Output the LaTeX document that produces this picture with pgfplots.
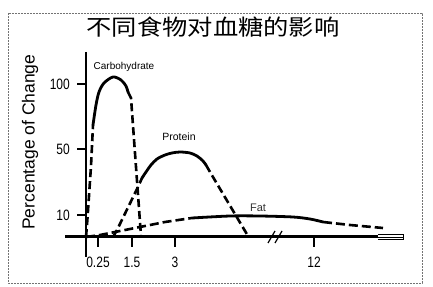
\documentclass[border=0pt]{standalone}
\usepackage{fontspec}
\setmainfont{Liberation Sans}
\newfontfamily\cjk{Noto Sans CJK SC}
\usepackage{graphicx}
\usepackage{pgfplots}
\pgfplotsset{compat=1.18}
\begin{document}
\begin{tikzpicture}
\begin{axis}[
  scale only axis, width=433pt, height=286pt,
  xmin=0, xmax=433, ymin=0, ymax=286,
  axis line style={draw=none},
  major tick length=0pt, tick style={draw=none},
  clip=false,
  xtick={98,132,175,314},
  xticklabels={\scalebox{0.8}[1]{0.25},\scalebox{0.8}[1]{1.5},\scalebox{0.8}[1]{3},\scalebox{0.8}[1]{12}},
  ytick={71,137,202},
  yticklabels={\scalebox{0.8}[1]{10},\scalebox{0.8}[1]{50},\scalebox{0.8}[1]{100}},
  xticklabel style={anchor=center, inner sep=0pt, yshift=24pt, font=\fontsize{15}{15}\selectfont},
  yticklabel style={anchor=east, inner sep=0pt, xshift=70pt, font=\fontsize{15}{15}\selectfont},
  title={\scalebox{1.15}[1]{\cjk 不同食物对血糖的影响}},
  title style={at={(axis description cs:0.492,0.885)}, anchor=center, font=\fontsize{22}{22}\selectfont},
  ylabel={Percentage of Change},
  ylabel style={at={(axis description cs:0.0693,0.503)}, anchor=center, font=\fontsize{17.5}{17.5}\selectfont},
]
% border of the photo
\draw[black!55, line width=0.9pt, dash pattern=on 2pt off 1pt] (axis cs:8,273) rectangle (axis cs:422,3);

% axes
\addplot[black, line width=2.5pt] coordinates {(86,234)(86,29)};
\addplot[black, line width=3pt] coordinates {(65,49)(378,49)};
\addplot[black, line width=0.9pt] coordinates {(378,51.5)(403,51.5)(403,46.5)(378,46.5)};
\addplot[black, line width=0.9pt] coordinates {(378,49)(403,49)};
% axis break
\addplot[black, line width=1.2pt] coordinates {(268,43)(275,55)};
\addplot[black, line width=1.2pt] coordinates {(275,43)(282,55)};
% ticks
\addplot[black, line width=2pt] coordinates {(77,202)(86,202)};
\addplot[black, line width=2pt] coordinates {(77,137)(86,137)};
\addplot[black, line width=2pt] coordinates {(77,71)(86,71)};
\addplot[black, line width=2pt] coordinates {(98,49)(98,39)};
\addplot[black, line width=2pt] coordinates {(132,49)(132,39)};
\addplot[black, line width=2pt] coordinates {(175,49)(175,39)};
\addplot[black, line width=2pt] coordinates {(314,49)(314,39)};

% Carbohydrate
\addplot[black, line width=2.6pt, dash pattern=on 8pt off 4pt] coordinates {(86,49)(87,61)(89,90)(91,120)(92,140)(93,161)};
\addplot[black, line width=2.8pt, smooth, line cap=round] coordinates {(93,161)(96,181)(99,194)(104,203)(113,209)(121,206)(126,200)(128,194)};
\addplot[black, line width=2.6pt, dash pattern=on 8pt off 4pt] coordinates {(128,194)(131,188)(141,50)};

% Protein
\addplot[black, line width=2.6pt, dash pattern=on 8pt off 4pt] coordinates {(113,49)(117,56)(138,99)(142,108)};
\addplot[black, line width=2.8pt, smooth, line cap=round] coordinates {(142,108)(146,114)(151,121)(157,127)(165,131)(172,133)(180,134)(190,133)(197,130)(203,125)(206,121)};
\addplot[black, line width=2.6pt, dash pattern=on 8pt off 4pt] coordinates {(206,121)(210,114)(248,50)};

% Fat
\addplot[black, line width=2.6pt, dash pattern=on 9pt off 4pt] coordinates {(86,49)(100,51)(115,54)(140,59)(165,64)(192,68)};
\addplot[black, line width=2.8pt, smooth] coordinates {(192,68)(230,70)(260,70)(293,69)(310,67)(323,64)};
\addplot[black, line width=2.6pt, dash pattern=on 9pt off 4pt] coordinates {(323,64)(350,61)(383,58)};

% labels
\node[font=\fontsize{10}{10}\selectfont] at (axis cs:124,219) {Carbohydrate};
\node[font=\fontsize{10.5}{10.5}\selectfont] at (axis cs:179,149) {Protein};
\node[font=\fontsize{11}{11}\selectfont, text=black!80] at (axis cs:258,78) {Fat};
\end{axis}
\end{tikzpicture}
\end{document}
